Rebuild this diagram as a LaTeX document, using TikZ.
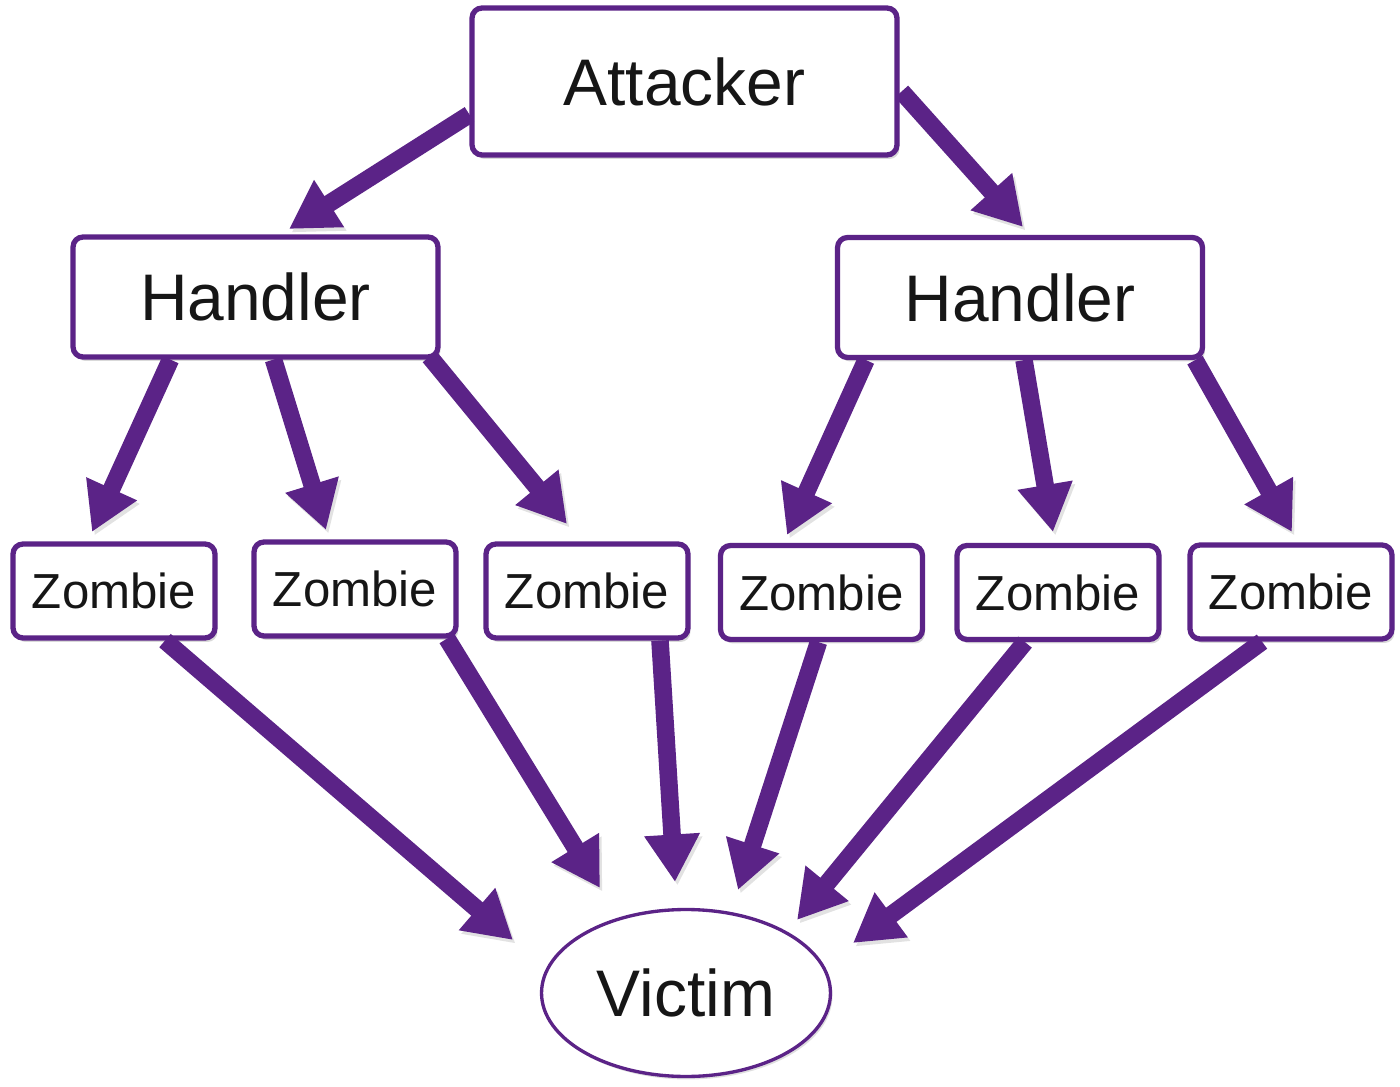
\documentclass[tikz,border=0pt]{standalone}
\usepackage{fontspec}
\setmainfont{Liberation Sans}
\usetikzlibrary{arrows.meta,shapes.geometric,shadows,calc}
\definecolor{vio}{HTML}{5B2387}
\definecolor{ink}{HTML}{161616}
\tikzset{
  box/.style={draw=vio, line width=3pt, fill=white, rounded corners=0.2cm,
    text=ink, inner sep=0pt,
    drop shadow={opacity=0.3, shadow xshift=0.05cm, shadow yshift=-0.08cm}},
  bigbox/.style={box, font=\fontsize{37.5}{40}\selectfont},
  zbox/.style={box, minimum width=4.04cm, minimum height=1.88cm, font=\fontsize{28}{30}\selectfont},
  arr/.style={draw=vio, line width=10pt, -{Triangle[length=0.95cm,width=1.05cm]},
    preaction={draw=black!45, opacity=0.25, transform canvas={shift={(0.05cm,-0.07cm)}}}}
}
\begin{document}
\begin{tikzpicture}[x=0.02cm, y=-0.02cm]
\useasboundingbox (0,0) rectangle (1400,1087);
% nodes
\node[bigbox, minimum width=8.5cm, minimum height=2.94cm] (att) at (684.5,81.5) {Attacker};
\node[bigbox, minimum width=7.3cm, minimum height=2.4cm] (h1) at (255.5,297) {Handler};
\node[bigbox, minimum width=7.3cm, minimum height=2.4cm] (h2) at (1020,297.5) {Handler};
\node[zbox] (z1) at (114,591) {Zombie};
\node[zbox] (z2) at (355,589) {Zombie};
\node[zbox] (z3) at (587,591) {Zombie};
\node[zbox] (z4) at (821.5,592.5) {Zombie};
\node[zbox] (z5) at (1058,592.5) {Zombie};
\node[zbox] (z6) at (1291,592) {Zombie};
\node[draw=vio, line width=1.9pt, ellipse, fill=white, text=ink, inner sep=0pt,
  minimum width=5.78cm, minimum height=3.34cm, font=\fontsize{37.5}{40}\selectfont,
  drop shadow={opacity=0.25, shadow xshift=0.04cm, shadow yshift=-0.06cm}] (vic) at (686,993) {Victim};
% arrow tips
\coordinate (ta1) at (289,229);
\coordinate (ta2) at (1023,227);
\coordinate (t11) at (92,532);
\coordinate (t12) at (326,530);
\coordinate (t13) at (567,524);
\coordinate (t21) at (787,535);
\coordinate (t22) at (1053,532);
\coordinate (t23) at (1292,532);
\coordinate (tv1) at (513,940);
\coordinate (tv2) at (600,888);
\coordinate (tv3) at (675,882);
\coordinate (tv4) at (738,890);
\coordinate (tv5) at (797,920);
\coordinate (tv6) at (853,943);
% connectors
\draw[arr] ($(att.west)+(0,33)$) -- (ta1);
\draw[arr] ($(att.east)+(2,10)$) -- (ta2);
\draw[arr] ($(h1.south)+(-85,0)$) -- (t11);
\draw[arr] ($(h1.south)+(18,0)$) -- (t12);
\draw[arr] ($(h1.south)+(174,-3)$) -- (t13);
\draw[arr] ($(h2.south)+(-154,0)$) -- (t21);
\draw[arr] ($(h2.south)+(4,0)$) -- (t22);
\draw[arr] ($(h2.south)+(175,0)$) -- (t23);
\draw[arr] ($(z1.south)+(51,0)$) -- (tv1);
\draw[arr] ($(z2.south)+(92,0)$) -- (tv2);
\draw[arr] ($(z3.south)+(73,0)$) -- (tv3);
\draw[arr] ($(z4.south)+(-3,0)$) -- (tv4);
\draw[arr] ($(z5.south)+(-33,0)$) -- (tv5);
\draw[arr] ($(z6.south)+(-29,0)$) -- (tv6);
\end{tikzpicture}
\end{document}
